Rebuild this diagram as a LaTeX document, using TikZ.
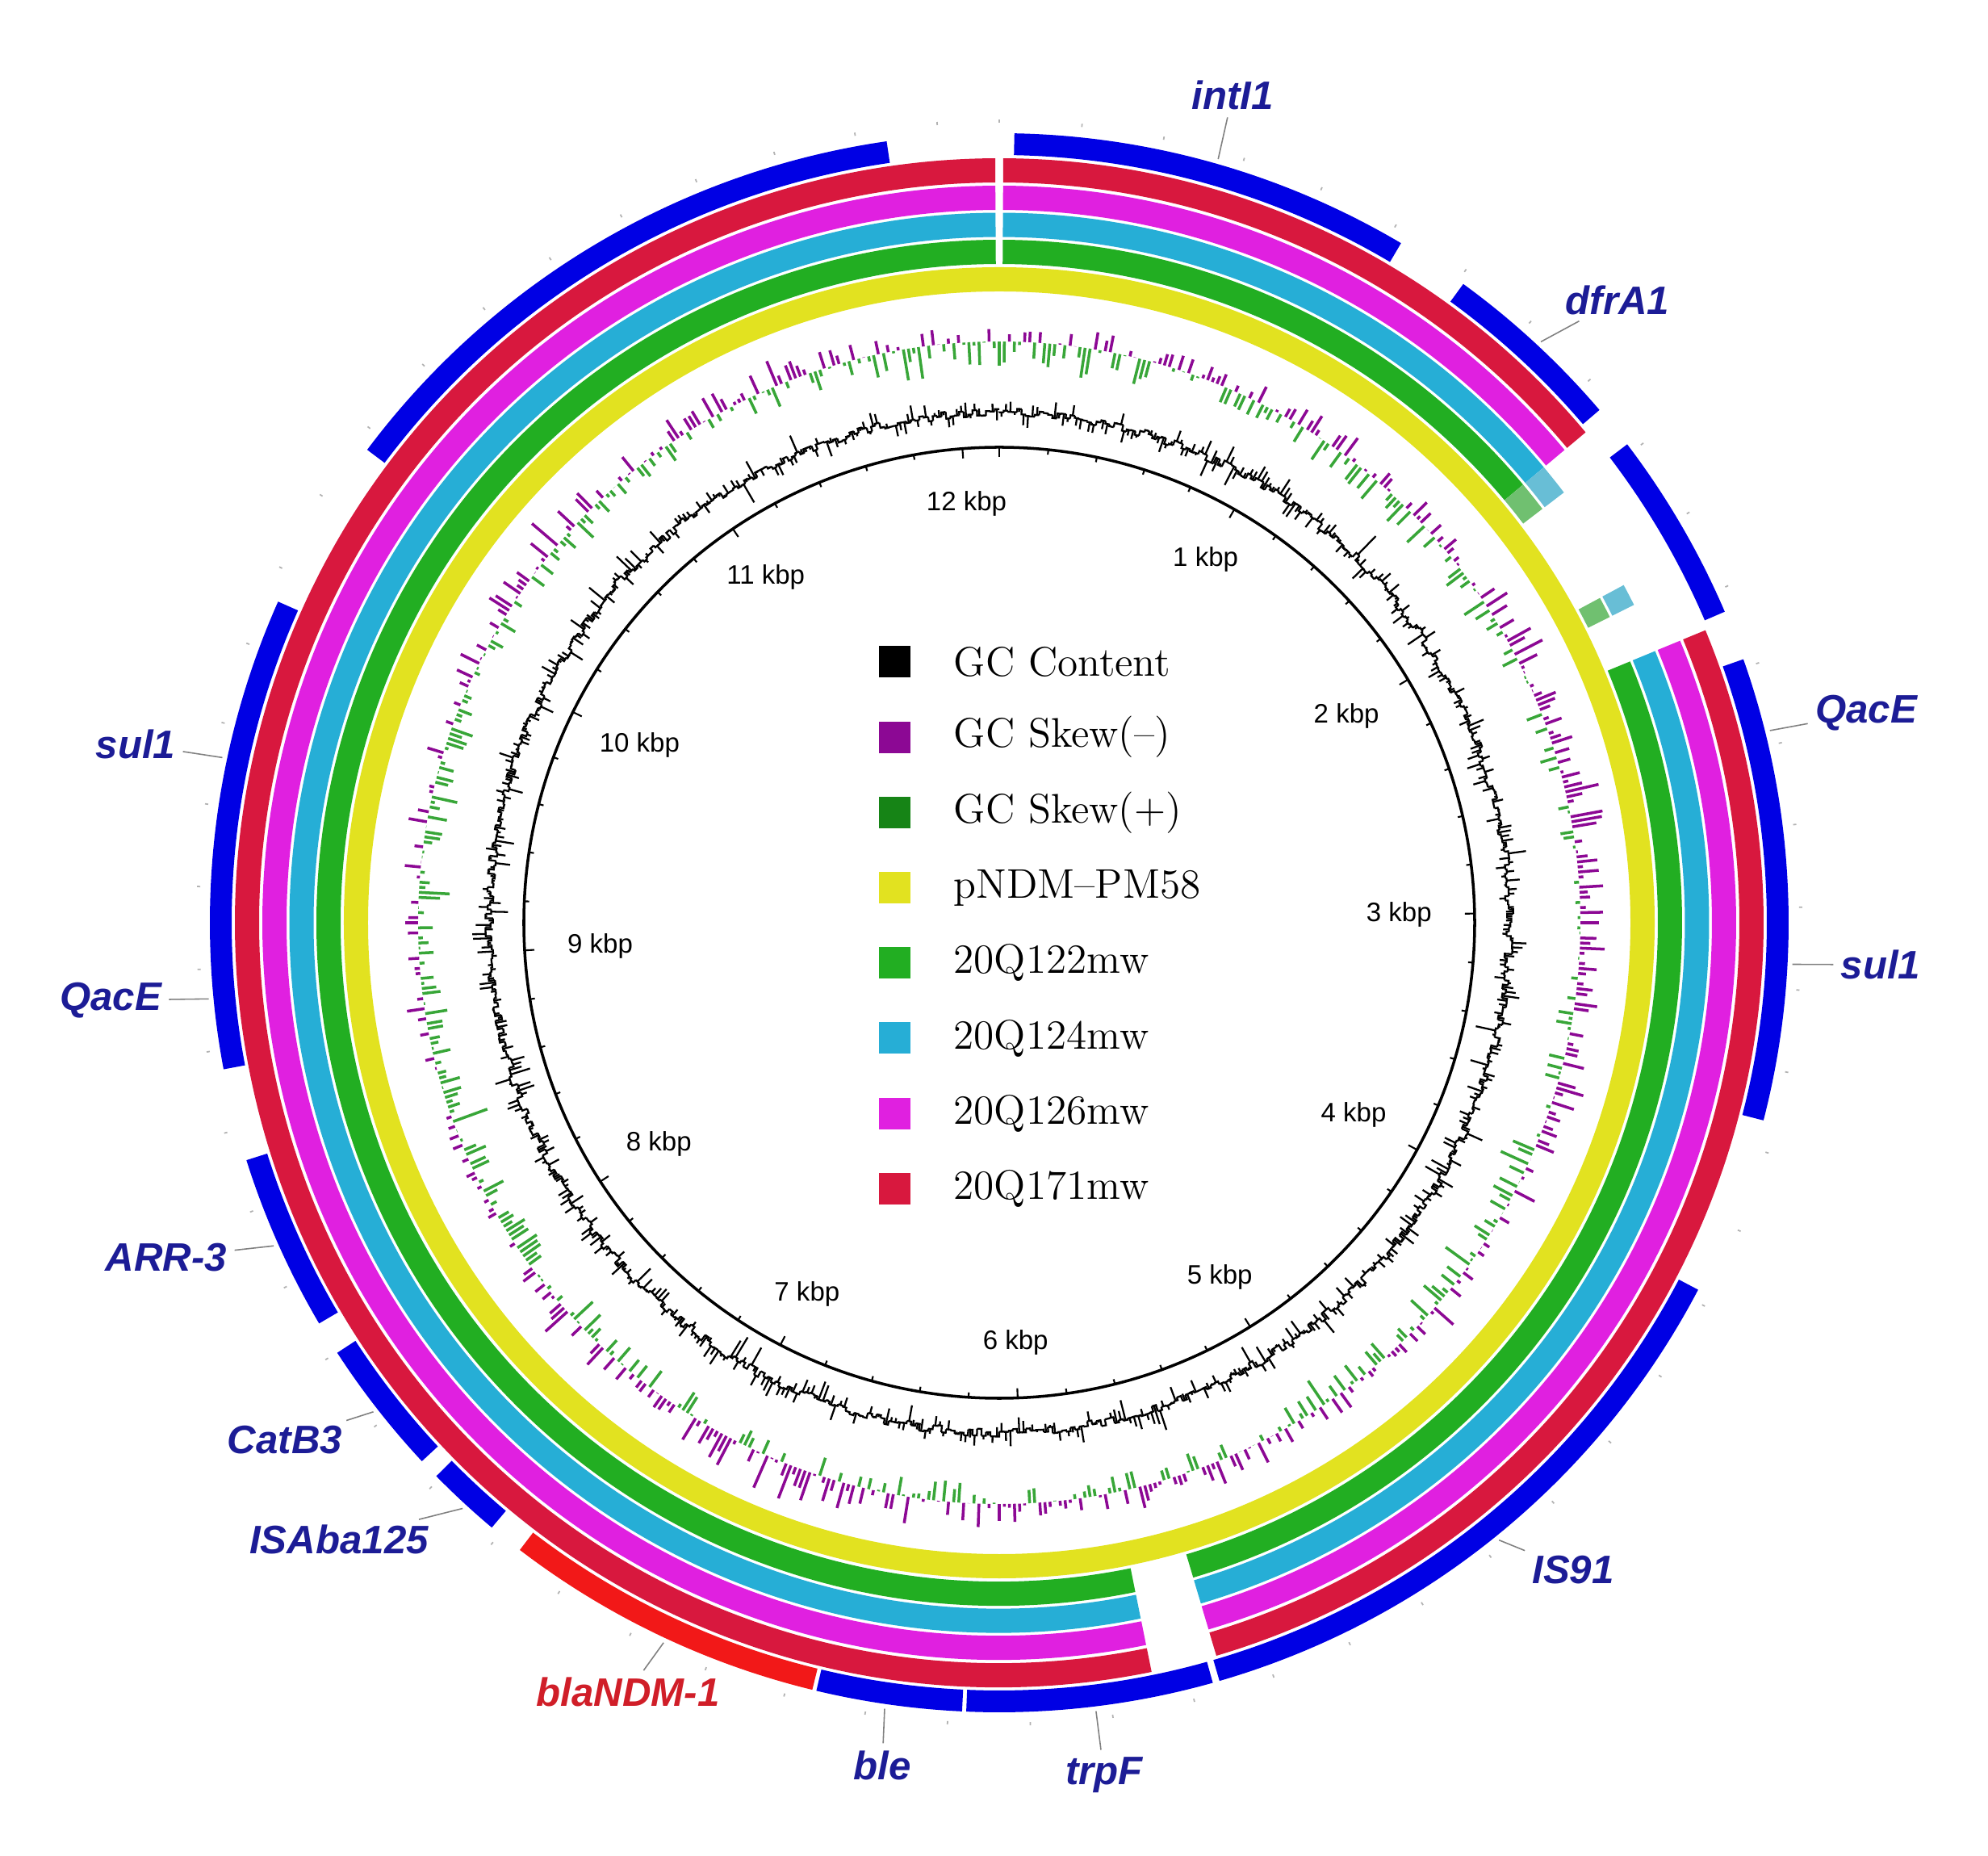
\documentclass[tikz,border=0pt]{standalone}
\usepackage{fontspec}
\newfontfamily\genefont{Liberation Sans}
\usetikzlibrary{calc}

\definecolor{geneblue}{RGB}{0,0,228}
\definecolor{ndmred}{RGB}{242,24,24}
\definecolor{labblue}{RGB}{28,28,150}
\definecolor{labred}{RGB}{208,30,40}
\definecolor{ringyellow}{RGB}{226,226,32}
\definecolor{ringgreen}{RGB}{34,174,34}
\definecolor{ringgreenlt}{RGB}{112,192,112}
\definecolor{ringcyan}{RGB}{38,174,214}
\definecolor{ringcyanlt}{RGB}{104,190,214}
\definecolor{ringmagenta}{RGB}{224,32,224}
\definecolor{ringred}{RGB}{216,24,62}
\definecolor{skewneg}{RGB}{140,8,148}
\definecolor{skewpos}{RGB}{56,166,56}
\definecolor{legpos}{RGB}{22,132,22}

\begin{document}
\begin{tikzpicture}[
  band/.style={line width=0.30cm},
  gene/.style={line width=0.27cm, geneblue},
  gcline/.style={line width=0.65pt, black},
  skewbar/.style={line width=1pt},
  leader/.style={gray, line width=0.45pt, shorten >=1pt},
  genelab/.style={font={\genefont\fontsize{14}{16}\selectfont\bfseries\itshape}, text=labblue, inner sep=1.5pt},
  kbplab/.style={font={\genefont\fontsize{9.4}{11}\selectfont}, inner sep=1pt},
  legbox/.style={minimum size=0.39cm, inner sep=0pt},
  legtext/.style={font={\fontsize{14.6}{17}\selectfont}, anchor=west, inner sep=0pt}]

  \useasboundingbox (-12.38,-11.56) rectangle (12.25,11.43);

  % scale circle with ticks and kbp marks
  \draw[line width=1pt] (0,0) circle (5.89);
  \foreach \k in {0,...,60}{
    \pgfmathsetmacro\a{90-\k*5.9259}
    \pgfmathsetmacro\ri{5.89-0.06-0.06*(mod(\k,5)==0)}
    \draw[line width=0.6pt] (\a:5.89) -- (\a:\ri);
    \draw[gray!60, line width=0.5pt] (\a:9.91) -- (\a:9.95);
  }
  \foreach \k in {1,...,12}{
    \pgfmathsetmacro\a{mod(450-\k*360/12.15,360)}
    \node[kbplab, anchor=\a] (kbp\k) at (\a:5.40) {\k\ kbp};
  }

  % GC content
  \pgfmathsetseed{2021}
  \gdef\bold{6.32}
  \foreach \i in {0,...,719}{
    \pgfmathsetmacro\a{90-\i/2}
    \pgfmathsetmacro\m{89.75-\i/2}
    \pgfmathsetmacro\c{89.5-\i/2}
    \pgfmathsetmacro\b{6.32+0.05*rand}
    \pgfmathsetmacro\r{\b+0.14*rand+0.24*rand*abs(rand)}
    \draw[gcline] (\a:\bold) -- (\a:\b) -- (\c:\b) (\m:\b) -- (\m:\r);
    \xdef\bold{\b}
  }

  % GC skew
  \foreach \i in {0,...,719}{
    \pgfmathsetmacro\a{90-\i/2}
    \pgfmathsetmacro\v{0.24*rand+0.22*rand*abs(rand)+0.06*sin(3*\a+40)}
    \ifdim \v pt>0pt
      \draw[skewbar, skewneg] (\a:7.20) -- ++(\a:\v);
    \else
      \draw[skewbar, skewpos] (\a:7.20) -- ++(\a:\v);
    \fi
  }

  % BLAST rings
  \draw[band, ringyellow] (0,0) circle (7.97);
  \foreach \r/\c in {8.31/ringgreen, 8.645/ringcyan, 8.98/ringmagenta, 9.32/ringred}{
    \foreach \s/\e in {0.3/50.1, 67.5/163.5, 168.5/359.7}{
      \pgfmathsetmacro\sa{90-\s}
      \pgfmathsetmacro\ea{90-\e}
      \draw[band, \c] (\sa:\r) arc[start angle=\sa, end angle=\ea, radius=\r];
    }
  }
  \foreach \r/\c in {8.31/ringgreenlt, 8.645/ringcyanlt}{
    \foreach \s/\e in {50.1/52.7, 61.6/63.4}{
      \pgfmathsetmacro\sa{90-\s}
      \pgfmathsetmacro\ea{90-\e}
      \draw[band, \c] (\sa:\r) arc[start angle=\sa, end angle=\ea, radius=\r];
    }
  }

  % genes
  \foreach \s/\e in {306.8/351.8, 1.1/30.6, 36/49.5, 52.7/66.8, 70.5/104.5, 117.7/163.8,
                     164.3/182.4, 182.7/193.4, 220/225.5, 227/237, 239.5/252.5, 259.3/294}{
    \pgfmathsetmacro\sa{90-\s}
    \pgfmathsetmacro\ea{90-\e}
    \draw[gene] (\sa:9.645) arc[start angle=\sa, end angle=\ea, radius=9.645];
  }
  \draw[gene, ndmred] (-103.7:9.645) arc[start angle=-103.7, end angle=-127.4, radius=9.645];

  % gene labels
  \node[genelab] (intI1) at (2.89,10.25) {intI1};
  \node[genelab] (dfrA1) at (7.66,7.71) {dfrA1};
  \node[genelab] (qacE1) at (10.74,2.60) {QacE};
  \node[genelab] (sul1a) at (10.92,-0.52) {sul1};
  \node[genelab] (is91) at (7.11,-8.02) {IS91};
  \node[genelab] (trpF) at (1.30,-10.56) {trpF};
  \node[genelab] (ble) at (-1.45,-10.44) {ble};
  \node[genelab, text=labred] (ndm) at (-4.60,-9.53) {blaNDM-1};
  \node[genelab] (isaba) at (-8.18,-7.64) {ISAba125};
  \node[genelab] (catB3) at (-8.85,-6.41) {CatB3};
  \node[genelab] (arr3) at (-10.32,-4.15) {ARR-3};
  \node[genelab] (qacE2) at (-11.01,-0.96) {QacE};
  \node[genelab] (sul1b) at (-10.70,2.21) {sul1};

  \foreach \n/\t in {intI1/74, dfrA1/47, qacE1/14, sul1a/-3, is91/-51, trpF/-83, ble/-98.3,
                     ndm/-115, isaba/-132.5, catB3/-142, arr3/-156, qacE2/-174.5, sul1b/-192}{
    \coordinate (\n-r) at (\t:9.84);
    \draw[leader] (\n-r) -- (\n);
  }

  % legend
  \foreach \i/\c/\t in {0/black/{GC Content}, 1/skewneg/{GC Skew(--)}, 2/legpos/{GC Skew(+)},
                        3/ringyellow/{pNDM--PM58}, 4/ringgreen/{20Q122mw}, 5/ringcyan/{20Q124mw},
                        6/ringmagenta/{20Q126mw}, 7/ringred/{20Q171mw}}{
    \node[legbox, fill=\c] (box\i) at (-1.30,3.23-0.932*\i) {};
    \node[legtext] (leg\i) at (-0.57,3.23-0.932*\i) {\t};
  }
\end{tikzpicture}
\end{document}
